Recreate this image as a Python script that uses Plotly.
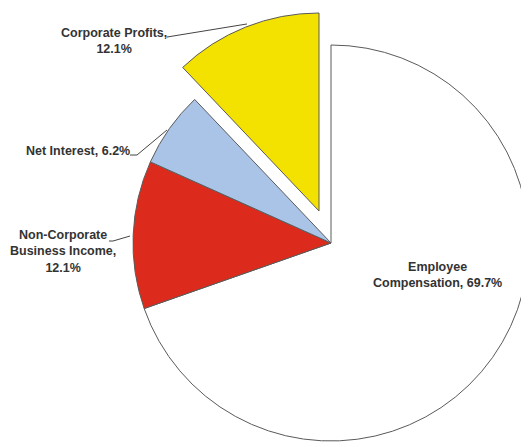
import plotly.graph_objects as go

# Share of national income by type
labels = ["Employee Compensation", "Non-Corporate Business Income",
          "Net Interest", "Corporate Profits"]
values = [69.7, 12.1, 6.2, 12.1]
colors = ["#FFFFFF", "#DC2B1C", "#A9C4E7", "#F3E100"]

# how each label is broken over lines on the chart
label_text = ["Employee<br>Compensation", "Non-Corporate<br>Business Income",
              "Net Interest", "Corporate Profits"]
value_sep = [", ", ",<br>", ", ", ",<br>"]

# the page body has an 8px margin, so the figure is sized to fit the window
OFF = 8
W, H = 529 - OFF, 447 - OFF
EDGE = "#5a5a5a"
TEXT = "#333333"
CLEAR = "rgba(0,0,0,0)"


def px_x(x):
    # x given in window pixels
    return (x - OFF) / W


def px_y(y):
    return 1 - (y - OFF) / H


def pie_domain(cx, cy, r):
    return dict(x=[max(0, px_x(cx - r)), min(1, px_x(cx + r))],
                y=[max(0, px_y(cy + r)), min(1, px_y(cy - r))])


fig = go.Figure()

# main pie, the exploded slice left empty
main_colors = [c if i < 3 else CLEAR for i, c in enumerate(colors)]
main_widths = [1, 1, 1, 0]
fig.add_trace(go.Pie(
    labels=labels, values=values, sort=False, direction="clockwise",
    rotation=0, textinfo="none", hoverinfo="label+percent",
    marker=dict(colors=main_colors, line=dict(color=EDGE, width=main_widths)),
    domain=pie_domain(331, 243, 198), showlegend=False,
))

# exploded Corporate Profits slice
pull_colors = [CLEAR, CLEAR, CLEAR, colors[3]]
pull_widths = [0, 0, 0, 1]
fig.add_trace(go.Pie(
    labels=labels, values=values, sort=False, direction="clockwise",
    rotation=0, textinfo="none", hoverinfo="label+percent",
    marker=dict(colors=pull_colors, line=dict(color=EDGE, width=pull_widths)),
    domain=pie_domain(319, 211, 198), showlegend=False,
))

# label positions (window pixels)
label_pos = [(437, 275), (63, 251), (78, 151), (114, 41)]
annotations = []
for txt, sep, v, (x, y) in zip(label_text, value_sep, values, label_pos):
    annotations.append(dict(
        text=f"{txt}{sep}{v}%", x=px_x(x), y=px_y(y), xref="paper", yref="paper",
        showarrow=False, xanchor="center", yanchor="middle", align="center",
        font=dict(family="Liberation Sans, Arial, sans-serif", size=12.5,
                  color=TEXT, weight="bold"),
    ))

# leader lines
leaders = [
    [(109, 241), (113, 241), (130, 236)],
    [(130, 155), (137, 155), (167, 130)],
    [(167, 37), (247, 24)],
]
shapes = []
for pts in leaders:
    path = "M " + " L ".join(f"{px_x(x):.4f},{px_y(y):.4f}" for x, y in pts)
    shapes.append(dict(type="path", path=path, xref="paper", yref="paper",
                       line=dict(color="#444444", width=1)))

fig.update_layout(
    width=W, height=H,
    margin=dict(l=0, r=0, t=0, b=0),
    paper_bgcolor="white", plot_bgcolor="white",
    annotations=annotations, shapes=shapes,
)

fig.write_html("out.html")
